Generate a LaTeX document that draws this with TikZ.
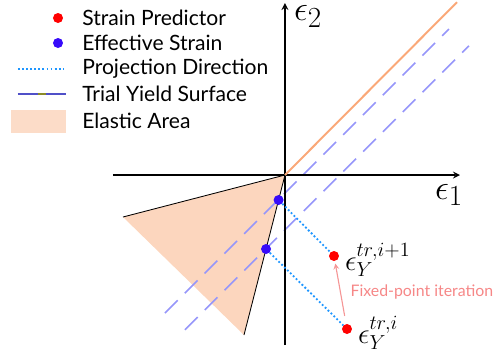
\documentclass[tikz,border=0pt]{standalone}
\usepackage{fontspec}
\setmainfont{Lato}
\usetikzlibrary{positioning}
\definecolor{peach}{RGB}{252,214,190}
\definecolor{yieldblue}{RGB}{150,150,250}
\definecolor{legblue}{RGB}{80,80,200}
\definecolor{legolive}{RGB}{140,140,40}
\definecolor{projblue}{RGB}{30,150,255}
\definecolor{effblue}{RGB}{55,10,250}
\definecolor{surforange}{RGB}{250,168,120}
\definecolor{iterpink}{RGB}{245,150,150}
\begin{document}
\begin{tikzpicture}[x=1cm,y=1cm, font=\fontsize{15}{18}\selectfont,
  reddot/.style={circle, fill=red, inner sep=0pt, minimum size=0.25cm},
  bluedot/.style={circle, fill=effblue, inner sep=0pt, minimum size=0.25cm},
  projline/.style={projblue, line width=1.3pt, dash pattern=on 1.3pt off 1.6pt},
  yieldline/.style={yieldblue, line width=1.1pt, dash pattern=on 0.45cm off 0.25cm},
  axisline/.style={line width=1.2pt, -stealth},
  legtext/.style={anchor=west, inner sep=0pt}]
\useasboundingbox (-7.125,-4.675) rectangle (5.25,4.375);
% elastic area
\coordinate (O) at (0,0);
\coordinate (elA) at (-4.05,-1.05);
\coordinate (elB) at (-1.025,-4.0);
\fill[peach] (O) -- (elA) -- (elB) -- cycle;
\draw[line width=0.6pt] (elA) -- (O) -- (elB);
% trial yield surfaces
\coordinate (ys1a) at (-3.0,-3.45);
\coordinate (ys1b) at (4.1,3.65);
\coordinate (ys2a) at (-2.5,-3.87);
\coordinate (ys2b) at (4.6,3.23);
\draw[yieldline] (ys1a) -- (ys1b);
\draw[yieldline] (ys2a) -- (ys2b);
% axes
\coordinate (xstart) at (-4.3,0);
\coordinate (xend) at (4.375,0);
\coordinate (ystart) at (0,-4.25);
\coordinate (yend) at (0,4.3);
\coordinate (surfend) at (4.3,4.32);
\draw[axisline] (xstart) -- (xend);
\draw[axisline] (ystart) -- (yend);
\draw[surforange, line width=1.4pt] (O) -- (surfend);
\node[font=\Huge] (e1) at (4.1,-0.5) {$\epsilon_1$};
\node[font=\Huge, anchor=base west, inner sep=0pt] (e2) at (0.22,3.86) {$\epsilon_2$};
% strains
\node[bluedot] (eff1) at (-0.16,-0.625) {};
\node[bluedot] (eff0) at (-0.474,-1.85) {};
\node[reddot] (pred1) at (1.225,-2.025) {};
\node[reddot] (pred0) at (1.55,-3.85) {};
\draw[projline] (eff1) -- (pred1);
\draw[projline] (eff0) -- (pred0);
\node[font=\huge, right=0.02cm of pred1, yshift=-0.1cm] (lab1) {$\epsilon_Y^{tr,i+1}$};
\node[font=\huge, right=0.02cm of pred0, yshift=-0.1cm] (lab0) {$\epsilon_Y^{tr,i}$};
\draw[iterpink, line width=0.8pt, -stealth, shorten <=0.2cm, shorten >=0.06cm] (pred0) -- (pred1)
  node[midway, right=0.12cm, font=\fontsize{11.3}{13}\selectfont, text=iterpink!90!red] (iter) {Fixed-point iteration};
% legend
\node[reddot] (legpred) at (-5.675,3.925) {};
\node[bluedot] (legeff) at (-5.675,3.3) {};
\coordinate (legprojA) at (-6.675,2.65);
\coordinate (legprojB) at (-5.55,2.65);
\draw[projline] (legprojA) -- (legprojB);
\coordinate (legyieldA) at (-6.675,2.025);
\coordinate (legyieldB) at (-5.475,2.025);
\draw[legolive, line width=0.9pt] (legyieldA) -- (legyieldB);
\draw[legblue, line width=1.4pt, dash pattern=on 0.5cm off 0.2cm] (legyieldA) -- (legyieldB);
\fill[peach!85!white] (-6.85,1.05) rectangle (-5.475,1.625);
\node[legtext] (t1) at (-5.075,3.925) {Strain Predictor};
\node[legtext] (t2) at (-5.075,3.3) {Effective Strain};
\node[legtext] (t3) at (-5.075,2.65) {Projection Direction};
\node[legtext] (t4) at (-5.075,2.025) {Trial Yield Surface};
\node[legtext] (t5) at (-5.075,1.35) {Elastic Area};
\end{tikzpicture}
\end{document}
